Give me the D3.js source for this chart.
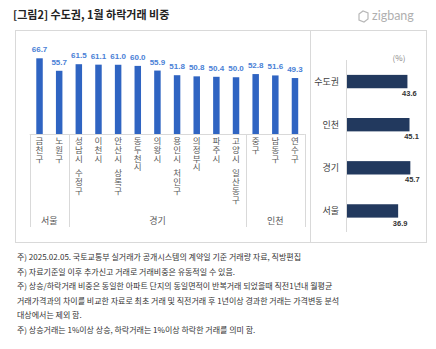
<!DOCTYPE html>
<html><head><meta charset="utf-8">
<script src="https://cdn.jsdelivr.net/npm/d3@7"></script>
<style>
html,body{margin:0;padding:0;background:#fff;}
svg{display:block;font-family:"Noto Sans CJK KR","Noto Sans",sans-serif;}
</style></head>
<body><svg id="c" width="436" height="349"></svg>
<script>
const districts = ["금천구","노원구","성남시 수정구","이천시","안산시 상록구","동두천시","의왕시","용인시 처인구","의정부시","파주시","고양시 일산동구","중구","남동구","연수구"];
const districtValues = [66.7,55.7,61.5,61.1,61.0,60.0,55.9,51.8,50.8,50.4,50.0,52.8,51.6,49.3];
const groups = ["서울","경기","인천"];
const groupSizes = [2,9,3];
const regions = ["수도권","인천","경기","서울"];
const regionValues = [43.6,45.1,45.7,36.9];
const title = "[그림2] 수도권, 1월 하락거래 비중";
const notes = [
 "주) 2025.02.05. 국토교통부 실거래가 공개시스템의 계약일 기준 거래량  자료, 직방편집",
 "주) 자료기준일 이후 추가신고 거래로 거래비중은 유동적일 수 있음.",
 "주) 상승/하락거래 비중은 동일한 아파트 단지의 동일면적이 반복거래 되었을때 직전1년내 월평균",
 "거래가격과의 차이를 비교한 자료로 최초 거래 및 직전거래 후 1년이상 경과한 거래는 가격변동 분석",
 "대상에서는 제외 함.",
 "주) 상승거래는 1%이상 상승, 하락거래는 1%이상 하락한 거래를 의미 함."
];

const svg = d3.select("#c");

// title
svg.append("text").attr("x",13).attr("y",19).attr("font-size",11).attr("font-weight","bold")
  .attr("fill","#222").text(title);
// logo
const lg = svg.append("g").attr("transform","translate(358,10)");
lg.append("path").attr("d","M1,4 L5,1 L10,3 L10,9 L6,12 L1,10 Z").attr("fill","none").attr("stroke","#b8b8b8").attr("stroke-width",1.2);
svg.append("text").attr("x",372).attr("y",20).attr("font-size",12.5).attr("fill","#b0b0b0")
  .attr("font-family","Lato, 'Noto Sans', sans-serif").text("zigbang");

// panels
svg.append("rect").attr("x",15.5).attr("y",30.5).attr("width",295).attr("height",212).attr("fill","none").attr("stroke","#d9d9d9");
svg.append("rect").attr("x",310.5).attr("y",30.5).attr("width",116).attr("height",212).attr("fill","none").attr("stroke","#d9d9d9");

// left chart
const x = d3.scaleBand().domain(districts).range([29.7,304.8]).paddingInner(0.67).paddingOuter(0.335);
const y = d3.scaleLinear().domain([0,80]).range([134,43.2]);
const step = x.step();
const L = svg.append("g");
L.selectAll("rect.bar").data(districts).join("rect").attr("class","bar")
  .attr("x",d=>x(d)).attr("width",x.bandwidth())
  .attr("y",(d,i)=>y(districtValues[i])).attr("height",(d,i)=>y(0)-y(districtValues[i]))
  .attr("fill","#2f64c2");
L.selectAll("text.val").data(districts).join("text").attr("class","val")
  .attr("x",d=>x(d)+x.bandwidth()/2).attr("y",(d,i)=>y(districtValues[i])-6)
  .attr("text-anchor","middle").attr("font-size",8).attr("font-weight","bold").attr("fill","#4a7fd6")
  .attr("font-family","Arial, 'Liberation Sans', sans-serif")
  .text((d,i)=>districtValues[i].toFixed(1));
// baseline
const x0 = x.range()[0], x1 = x.range()[1];
L.append("line").attr("x1",x0).attr("x2",x1).attr("y1",y(0)+0.5).attr("y2",y(0)+0.5).attr("stroke","#d9d9d9");
// group separators
let cum = 0; const bounds=[x0];
groupSizes.forEach(n=>{cum+=n; bounds.push(cum>=districts.length? x1 : x(districts[cum]) - (step-x.bandwidth())/2);});
L.selectAll("line.sep").data(bounds).join("line").attr("class","sep")
  .attr("x1",d=>Math.round(d)+0.5).attr("x2",d=>Math.round(d)+0.5).attr("y1",y(0)).attr("y2",227)
  .attr("stroke","#d9d9d9");
L.selectAll("text.grp").data(groups).join("text").attr("class","grp")
  .attr("x",(d,i)=>(bounds[i]+bounds[i+1])/2).attr("y",224).attr("text-anchor","middle")
  .attr("font-size",9).attr("fill","#595959").text(d=>d);
// vertical category labels (stacked characters)
districts.forEach(d=>{
  const t = L.append("text").attr("font-size",8.5).attr("fill","#595959").attr("text-anchor","middle");
  let yy = 144;
  for (const ch of d){
    if (ch===" "){ yy += 6; continue; }
    t.append("tspan").attr("x",x(d)+x.bandwidth()/2).attr("y",yy).text(ch);
    yy += 8.8;
  }
});

// right chart
const ry = d3.scaleBand().domain(regions).range([60,232.5]).paddingInner(0.69).paddingOuter(0.345);
const rx = d3.scaleLinear().domain([0,50]).range([347,416.3]);
const R = svg.append("g");
R.append("line").attr("x1",346.5).attr("x2",346.5).attr("y1",60).attr("y2",232).attr("stroke","#d9d9d9");
R.append("text").attr("x",399).attr("y",61).attr("text-anchor","middle").attr("font-size",8).attr("fill","#888").text("(%)");
R.selectAll("rect").data(regions).join("rect")
  .attr("x",rx(0)).attr("y",d=>ry(d)).attr("height",ry.bandwidth())
  .attr("width",(d,i)=>rx(regionValues[i])-rx(0)).attr("fill","#22395e");
R.selectAll("text.lab").data(regions).join("text").attr("class","lab")
  .attr("x",339).attr("y",d=>ry(d)+ry.bandwidth()/2+3.5).attr("text-anchor","end")
  .attr("font-size",9).attr("fill","#404040").text(d=>d);
R.selectAll("text.v").data(regions).join("text").attr("class","v")
  .attr("x",(d,i)=>rx(regionValues[i])+2).attr("y",d=>ry(d)+ry.bandwidth()+8)
  .attr("text-anchor","middle").attr("font-size",7.5).attr("font-weight","bold").attr("fill","#333")
  .attr("font-family","Arial, 'Liberation Sans', sans-serif")
  .text((d,i)=>regionValues[i].toFixed(1));

// notes
svg.selectAll("text.note").data(notes).join("text").attr("class","note")
  .attr("x",17).attr("y",(d,i)=>260+i*14.6).attr("font-size",8).attr("fill","#333").text(d=>d);
</script></body></html>
